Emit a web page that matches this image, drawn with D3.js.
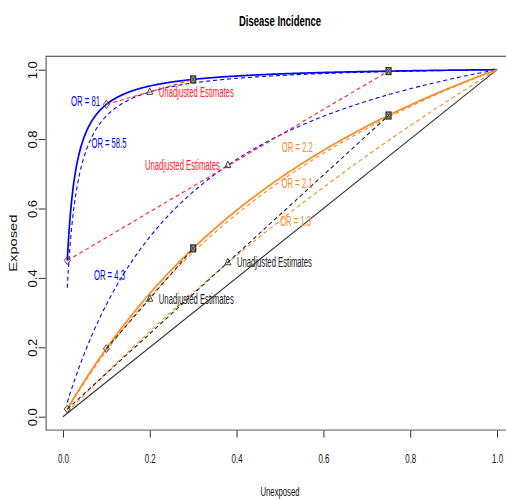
<!DOCTYPE html>
<html><head><meta charset="utf-8">
<script src="https://cdn.jsdelivr.net/npm/d3@7"></script>
<style>body{margin:0;background:#fff}svg{display:block}text{font-family:"Liberation Sans",Arial,sans-serif}</style>
</head><body><div id="chart"></div>
<script>
// ---- data ----
const title = "Disease Incidence";
const xLabel = "Unexposed", yLabel = "Exposed";
const ticks = [0, 0.2, 0.4, 0.6, 0.8, 1.0];
const tickLabels = ["0.0", "0.2", "0.4", "0.6", "0.8", "1.0"];
// odds-ratio curves: p1 = OR*p0 / (1 + p0*(OR-1))
const curveOR    = [81, 58.5, 4.3, 2.2, 2.1, 1.3];
const curveColor = ["blue", "blue", "blue", "orange", "orange", "orange"];
const curveSolid = [true, false, false, true, false, false];
const curveLabel = ["OR = 81", "OR = 58.5", "OR = 4.3", "OR = 2.2", "OR = 2.1", "OR = 1.3"];
const labelX = [0.052, 0.106, 0.107, 0.540, 0.539, 0.536];
const labelY = [0.909, 0.789, 0.408, 0.778, 0.673, 0.565];
const curveStart = 0.01, curveEnd = 1.0;
// strata points
const diamondX = [0.01, 0.1, 0.01, 0.1];
const diamondY = [0.45, 0.90, 0.022, 0.196];
const squareX  = [0.3, 0.75, 0.3, 0.75];
const squareY  = [0.972, 0.996, 0.485, 0.868];
// mixing lines (unadjusted)
const mixX1 = [0.01, 0.1, 0.01, 0.1];
const mixY1 = [0.45, 0.90, 0.022, 0.196];
const mixX2 = [0.75, 0.3, 0.75, 0.3];
const mixY2 = [0.996, 0.972, 0.868, 0.485];
const mixColor = ["red", "red", "black", "black"];
// unadjusted estimates
const triX = [0.2, 0.38, 0.38, 0.2];
const triY = [0.936, 0.725, 0.445, 0.34];
const triColor = ["red", "red", "black", "black"];
const triSide = ["right", "left", "right", "right"];
const triText = "Unadjusted Estimates";

const colors = {blue: "#0000ff", orange: "#fb8a24", red: "#ff2233", black: "#222"};

// ---- layout ----
const W = 506, H = 499;
const x = d3.scaleLinear().domain([-0.04, 1.04]).range([45.6, 514.4]);
const y = d3.scaleLinear().domain([-0.04, 1.04]).range([430.6, 55.8]);

const svg = d3.select("#chart").append("svg").attr("width", W).attr("height", H);
svg.append("clipPath").attr("id", "clip").append("rect")
  .attr("x", x(-0.04)).attr("y", y(1.04)).attr("width", x(1.04) - x(-0.04)).attr("height", y(-0.04) - y(1.04));

// title
svg.append("text").attr("x", x(0.5)).attr("y", 25.5).attr("text-anchor", "middle")
  .attr("font-size", 15).attr("font-weight", "bold")
  .attr("textLength", 82).attr("lengthAdjust", "spacingAndGlyphs").text(title);

// axes
const xAxis = d3.axisBottom(x).tickValues(ticks).tickFormat((d, i) => tickLabels[i]).tickSize(7).tickSizeOuter(0);
const gx = svg.append("g").attr("transform", `translate(0,${y(-0.04)})`).call(xAxis);
gx.select(".domain").remove();
gx.selectAll("line").attr("stroke", "#333");
gx.selectAll("text").attr("font-size", 12).attr("fill", "#111").attr("y", 0).attr("dy", null)
  .attr("transform", "translate(0,32) scale(0.66,1)");

const yAxis = d3.axisLeft(y).tickValues(ticks).tickFormat((d, i) => tickLabels[i]).tickSize(7).tickSizeOuter(0);
const gy = svg.append("g").attr("transform", `translate(${x(-0.04)},0)`).call(yAxis);
gy.select(".domain").remove();
gy.selectAll("line").attr("stroke", "#333");
gy.selectAll("text").attr("font-size", 12).attr("fill", "#111")
  .attr("x", 0).attr("dy", null).attr("text-anchor", "middle")
  .attr("transform", "translate(-9,0) rotate(-90)")
  .attr("textLength", 18).attr("lengthAdjust", "spacingAndGlyphs");

svg.append("text").attr("x", x(0.5)).attr("y", 496).attr("text-anchor", "middle")
  .attr("font-size", 12).attr("fill", "#111")
  .attr("textLength", 39).attr("lengthAdjust", "spacingAndGlyphs").text(xLabel);
svg.append("text").attr("transform", `translate(17,${y(0.5)}) rotate(-90)`).attr("text-anchor", "middle")
  .attr("font-size", 10).attr("fill", "#111")
  .attr("textLength", 57).attr("lengthAdjust", "spacingAndGlyphs").text(yLabel);

const plot = svg.append("g").attr("clip-path", "url(#clip)");

// diagonal
plot.append("line").attr("x1", x(0)).attr("y1", y(0)).attr("x2", x(1)).attr("y2", y(1))
  .attr("stroke", "#333").attr("stroke-width", 1.1);

// curves
const grid = d3.range(0, 401).map(i => curveStart + (curveEnd - curveStart) * i / 400);
const line = d3.line().x(d => x(d[0])).y(d => y(d[1])).curve(d3.curveLinear);
curveOR.forEach((or, k) => {
  const pts = grid.map(p => [p, or * p / (1 + p * (or - 1))]);
  plot.append("path").attr("d", line(pts)).attr("fill", "none")
    .attr("stroke", colors[curveColor[k]])
    .attr("stroke-width", curveSolid[k] ? 1.7 : 1.1)
    .attr("stroke-dasharray", curveSolid[k] ? null : "4,3");
});

// mixing lines
mixX1.forEach((v, k) => {
  plot.append("line").attr("x1", x(v)).attr("y1", y(mixY1[k])).attr("x2", x(mixX2[k])).attr("y2", y(mixY2[k]))
    .attr("stroke", colors[mixColor[k]]).attr("stroke-width", 1.1).attr("stroke-dasharray", "4,3");
});

// markers
const mk = "#444";
diamondX.forEach((v, k) => {
  const cx = x(v), cy = y(diamondY[k]);
  plot.append("path").attr("d", `M${cx},${cy - 4}L${cx + 3},${cy}L${cx},${cy + 4}L${cx - 3},${cy}Z`)
    .attr("fill", "none").attr("stroke", mk).attr("stroke-width", 1);
});
squareX.forEach((v, k) => {
  const cx = x(v), cy = y(squareY[k]);
  plot.append("rect").attr("x", cx - 2.5).attr("y", cy - 3.5).attr("width", 5).attr("height", 7)
    .attr("fill", "#999").attr("stroke", "#333").attr("stroke-width", 1.2);
  plot.append("path").attr("d", `M${cx - 2.5},${cy - 3.5}L${cx + 2.5},${cy + 3.5}M${cx + 2.5},${cy - 3.5}L${cx - 2.5},${cy + 3.5}`)
    .attr("stroke", "#333").attr("stroke-width", 0.8);
});
triX.forEach((v, k) => {
  const cx = x(v), cy = y(triY[k]);
  plot.append("path").attr("d", `M${cx},${cy - 4}L${cx + 3},${cy + 2.5}L${cx - 3},${cy + 2.5}Z`)
    .attr("fill", "none").attr("stroke", mk).attr("stroke-width", 1);
  const right = triSide[k] === "right";
  plot.append("text").attr("x", right ? cx + 9 : cx - 8).attr("y", cy + 5)
    .attr("text-anchor", right ? "start" : "end")
    .attr("font-size", 14).attr("fill", colors[triColor[k]])
    .attr("textLength", 75).attr("lengthAdjust", "spacingAndGlyphs").text(triText);
});

// curve labels
curveLabel.forEach((t, k) => {
  const n = t.length;
  plot.append("text").attr("x", x(labelX[k])).attr("y", y(labelY[k]) + 5).attr("text-anchor", "middle")
    .attr("font-size", 14).attr("fill", colors[curveColor[k]])
    .attr("textLength", n <= 7 ? 29 : (n === 8 ? 31 : 35)).attr("lengthAdjust", "spacingAndGlyphs").text(t);
});

// box
plot.append("rect").attr("x", x(-0.04)).attr("y", y(1.04)).attr("width", x(1.04) - x(-0.04)).attr("height", y(-0.04) - y(1.04))
  .attr("fill", "none").attr("stroke", "#444").attr("stroke-width", 2);
</script></body></html>
